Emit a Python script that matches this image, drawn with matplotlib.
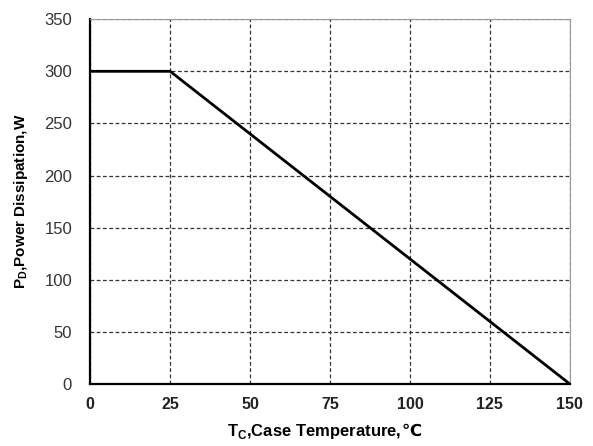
import matplotlib.pyplot as plt

# 功率降额曲线数据
Temp = [0, 25, 150]      # 壳温 Tc
Power = [300, 300, 0]    # 耗散功率 Pd
XTicks = [0, 25, 50, 75, 100, 125, 150]
YTicks = [0, 50, 100, 150, 200, 250, 300, 350]

plt.rcParams['font.family'] = ['Liberation Sans', 'DejaVu Sans']
plt.rcParams['mathtext.fontset'] = 'custom'
plt.rcParams['mathtext.rm'] = 'Liberation Sans'
plt.rcParams['mathtext.bf'] = 'Liberation Sans:bold'

fig = plt.figure(figsize=(5.93, 4.46), dpi=100)
ax = fig.add_axes([0.152, 0.139, 0.809, 0.818])

ax.plot(Temp, Power, color='black', linewidth=2)
ax.set_xlim(0, 150)
ax.set_ylim(0, 350)
ax.set_xticks(XTicks)
ax.set_yticks(YTicks)
ax.grid(True, linestyle=(0, (3, 2)), color='#333333', linewidth=0.9)
ax.tick_params(length=0)
ax.tick_params(axis='x', pad=9)
ax.tick_params(axis='y', pad=13)
for lab in ax.get_xticklabels():
    lab.set_fontsize(11.5)
    lab.set_fontweight('bold')
    lab.set_color('#222222')
for lab in ax.get_yticklabels():
    lab.set_fontsize(12)
    lab.set_color('#333333')

ax.spines['left'].set_linewidth(1.6)
ax.spines['bottom'].set_linewidth(1.6)
ax.spines['top'].set_color('#999999')
ax.spines['right'].set_color('#999999')

# x轴标题: 主体和℃分开画 (Liberation Sans里没有℃), 再整体居中
W = fig.bbox.width
base_y = 10 / fig.bbox.height
xl = fig.text(0, base_y, 'T$_\\mathregular{C}$,Case Temperature,', fontsize=12,
              fontweight='bold', ha='left', va='baseline')
deg = fig.text(0, base_y, '\u2103', fontsize=12, fontweight='bold',
               family='DejaVu Sans', ha='left', va='baseline')
fig.canvas.draw()
w1 = xl.get_window_extent().width
w2 = deg.get_window_extent().width
x0 = 324 - (w1 + w2) / 2
xl.set_x(x0 / W)
deg.set_x((x0 + w1) / W)

ax.set_ylabel('P$_\\mathregular{D}$,Power Dissipation,W', fontsize=11, fontweight='bold', labelpad=10)

plt.savefig('out.png', dpi=100)
